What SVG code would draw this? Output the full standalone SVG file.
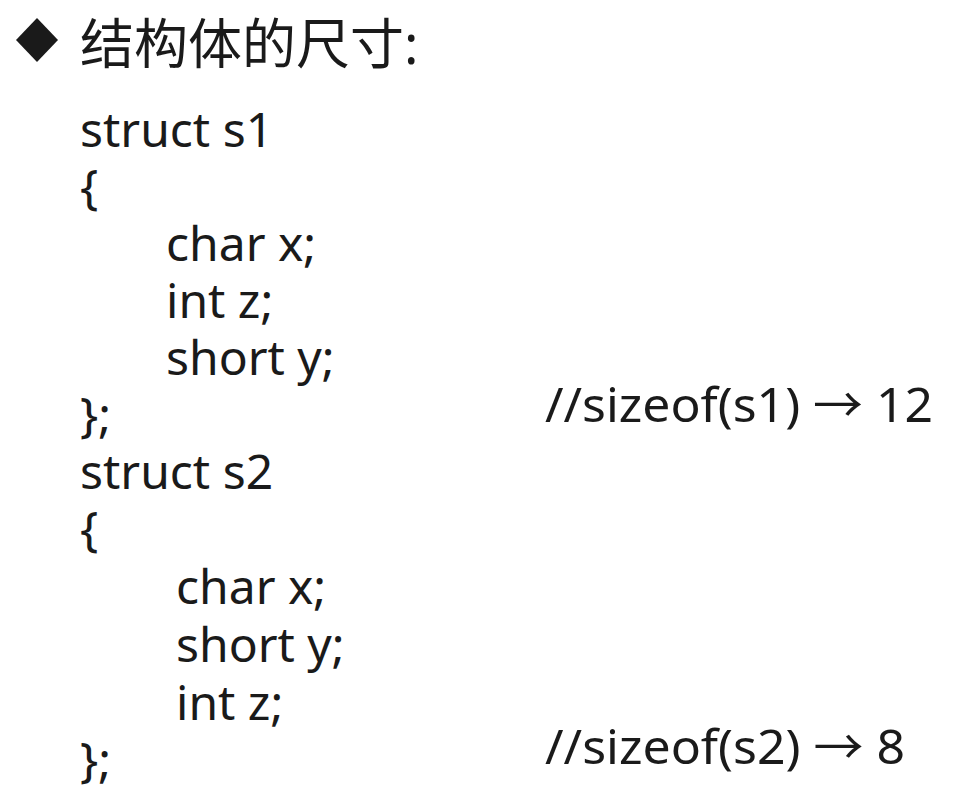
<svg xmlns="http://www.w3.org/2000/svg" width="978" height="803" viewBox="0 0 978 803">
<style>
text{font-family:"Noto Sans","Noto Sans CJK SC",sans-serif;fill:#1a1a1a;font-size:48px}
.t{font-size:54px}
</style>
<rect width="978" height="803" fill="#fff"/>
<g id="title">
<polygon points="37,18 58,40 37,62 16,40" fill="#1a1a1a"/>
<text class="t" x="80" y="64">结构体的尺寸:</text>
</g>
<g id="code">
<text x="80" y="147">struct s1</text>
<text x="80" y="204">{</text>
<text x="166" y="261">char x;</text>
<text x="166" y="318">int z;</text>
<text x="166" y="375">short y;</text>
<text x="80" y="432">};</text>
<text x="80" y="489">struct s2</text>
<text x="80" y="546">{</text>
<text x="176" y="604">char x;</text>
<text x="176" y="662">short y;</text>
<text x="176" y="720">int z;</text>
<text x="80" y="777">};</text>
<text x="545" y="422" textLength="388" lengthAdjust="spacingAndGlyphs">//sizeof(s1) → 12</text>
<text x="545" y="764" textLength="360" lengthAdjust="spacingAndGlyphs">//sizeof(s2) → 8</text>
</g>
</svg>
